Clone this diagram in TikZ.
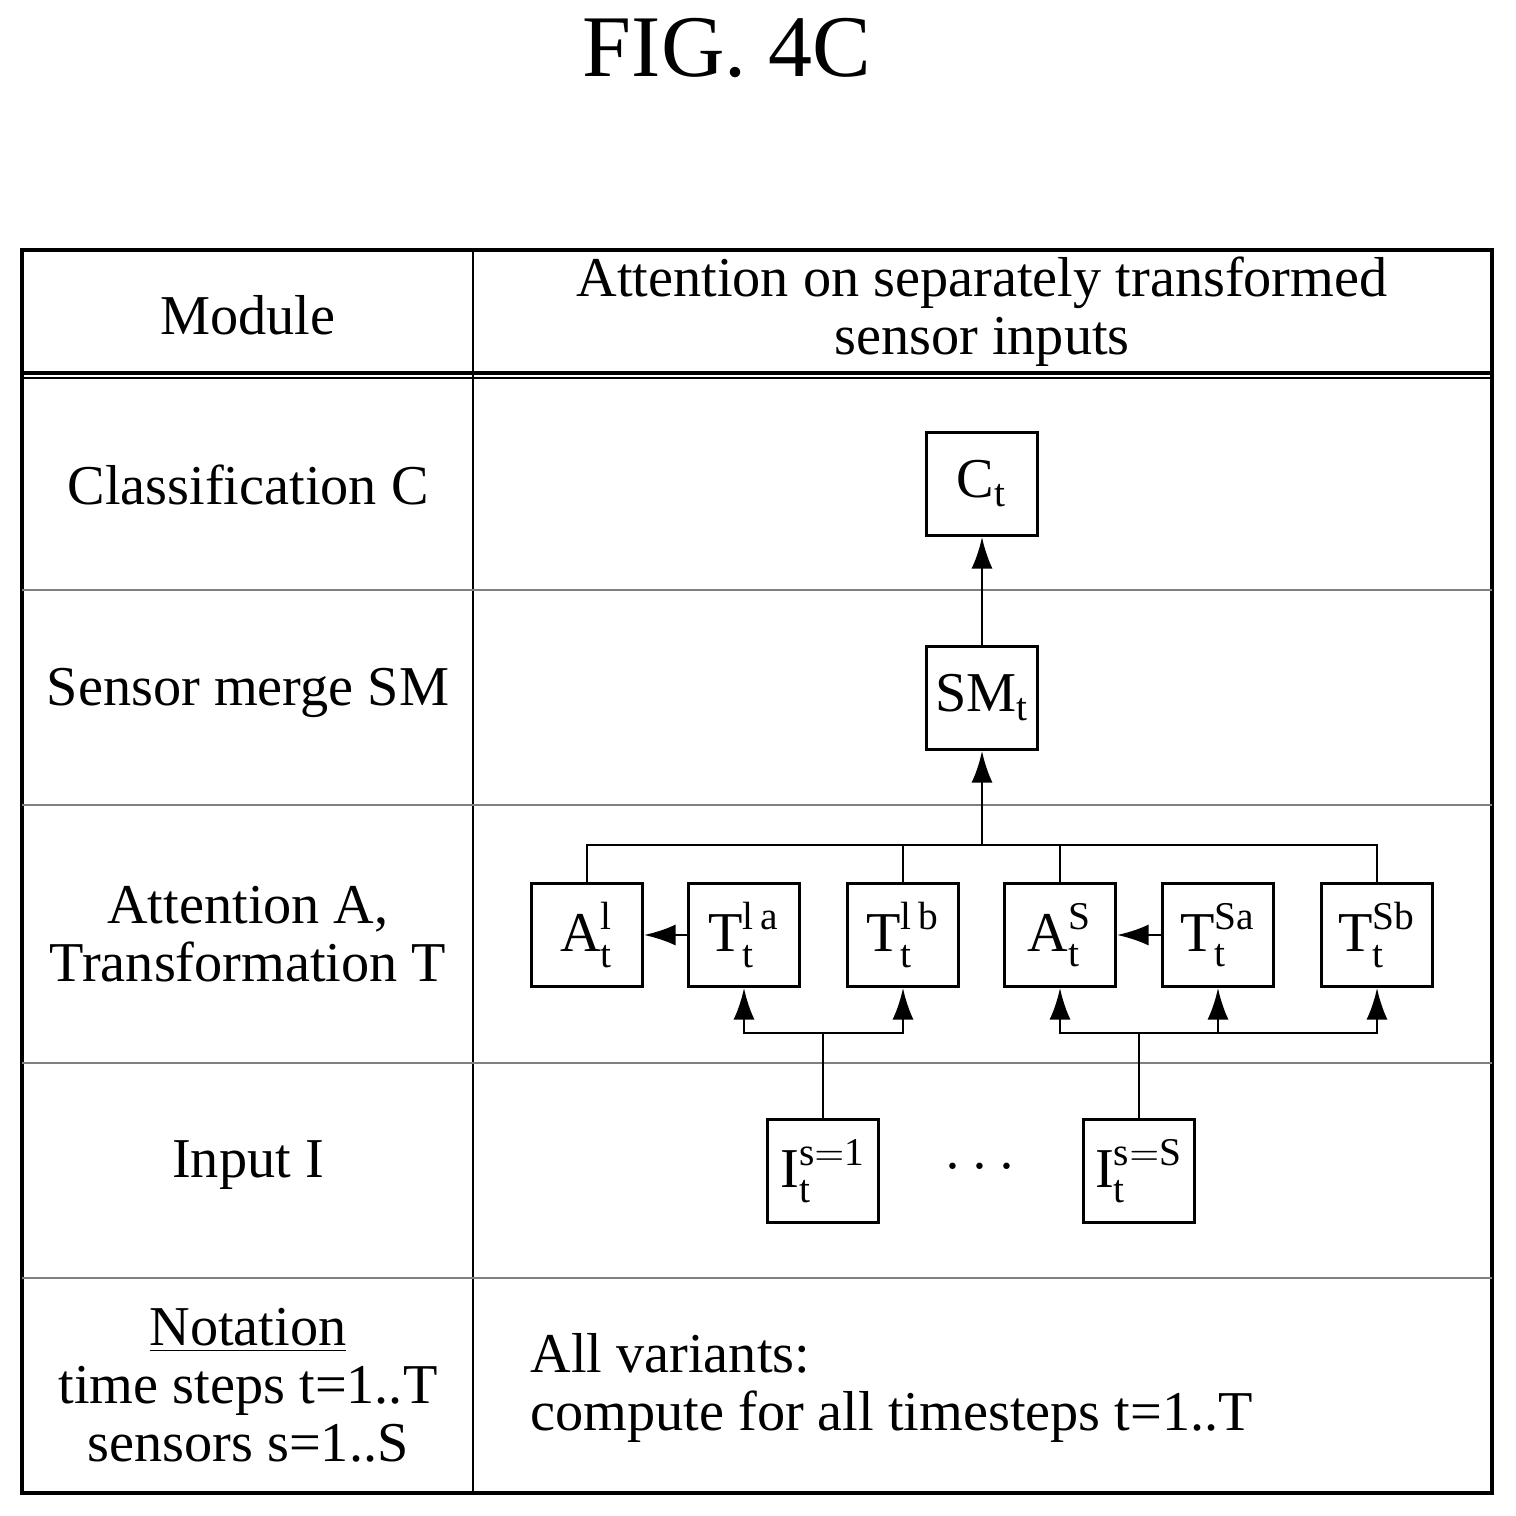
\documentclass[tikz,border=0pt]{standalone}
\usepackage{fontspec}
\setmainfont{Liberation Serif}
\usetikzlibrary{calc,arrows.meta}

\tikzset{
  blk/.style={draw, thick, minimum width=1.11cm, minimum height=1.03cm, inner sep=0pt, font=\fontsize{16pt}{18pt}\selectfont},
  lbl/.style={align=center, font=\fontsize{16pt}{16.5pt}\selectfont},
  arr/.style={-{Latex[length=9pt,width=6pt]}, thick}
}

\begin{document}
\begin{tikzpicture}[x=0.01cm,y=-0.01cm]
    \useasboundingbox (0,0) rectangle (1515,1516);
    \node[font=\fontsize{25pt}{27pt}\selectfont] (fig) at (727,48) {FIG. 4C};

    % table frame
    \draw[very thick] (22,250) rectangle (1492,1493);
    \draw[thick] (473,250) -- (473,1493);
    \draw[very thick] (22,373) -- (1492,373);
    \draw[thin] (22,378) -- (1492,378);
    \foreach \y in {590,805,1063,1278}
      \draw[gray, thin] (22,\y) -- (1492,\y);

    % left column
    \node[lbl] (hmod) at (248,315) {Module};
    \node[lbl] (hatt) at (982,312) {Attention on separately transformed\\sensor inputs};
    \node[lbl] (rcls) at (248,485) {Classification C};
    \node[lbl] (rsm) at (248,693) {Sensor merge SM};
    \node[lbl] (rat) at (248,934) {Attention A,\\Transformation T};
    \node[lbl] (rin) at (248,1165) {Input I};
    \node[lbl] (rnot) at (248,1385) {\underline{Notation}\\time steps t=1..T\\sensors s=1..S};
    \node[lbl, align=left, anchor=west] (rvar) at (518,1388) {All variants:\\compute for all timesteps t=1..T};

    % blocks
    \node[blk] (C) at (982,484) {C$_\mathrm{t}$};
    \node[blk] (SM) at (982,698) {SM$_\mathrm{t}$};
    \node[blk] (A1) at (587,935) {A$^\mathrm{l}_\mathrm{t}$};
    \node[blk] (T1a) at (744,935) {T$^\mathrm{l\,a}_\mathrm{t}$};
    \node[blk] (T1b) at (903,935) {T$^\mathrm{l\,b}_\mathrm{t}$};
    \node[blk] (AS) at (1060,935) {A$^\mathrm{S}_\mathrm{t}$};
    \node[blk] (TSa) at (1218,935) {T$^\mathrm{Sa}_\mathrm{t}$};
    \node[blk] (TSb) at (1377,935) {T$^\mathrm{Sb}_\mathrm{t}$};
    \node[blk] (I1) at (823,1171) {I$^\mathrm{s=1}_\mathrm{t}$};
    \node[blk] (IS) at (1139,1171) {I$^\mathrm{s=S}_\mathrm{t}$};
    \node[lbl] (dots) at (980,1168) {$\cdots$};

    % connectors
    \coordinate (mrg) at (982,845);
    \draw[thick] (A1.north) |- (mrg) -| (TSb.north);
    \draw[thick] (T1b.north) -- (T1b.north |- mrg);
    \draw[thick] (AS.north) -- (AS.north |- mrg);
    \draw[arr] (mrg) -- (SM);
    \draw[arr] (SM) -- (C);
    \draw[arr] (T1a) -- (A1);
    \draw[arr] (TSa) -- (AS);

    \coordinate (s1) at (823,1033);
    \coordinate (sS) at (1139,1033);
    \draw[thick] (I1.north) -- (s1);
    \draw[thick] (IS.north) -- (sS);
    \draw[arr] (s1) -| (T1a.south);
    \draw[arr] (s1) -| (T1b.south);
    \draw[arr] (sS) -| (AS.south);
    \draw[arr] (sS) -| (TSb.south);
    \draw[arr] (TSa.south |- sS) -- (TSa.south);
\end{tikzpicture}
\end{document}
